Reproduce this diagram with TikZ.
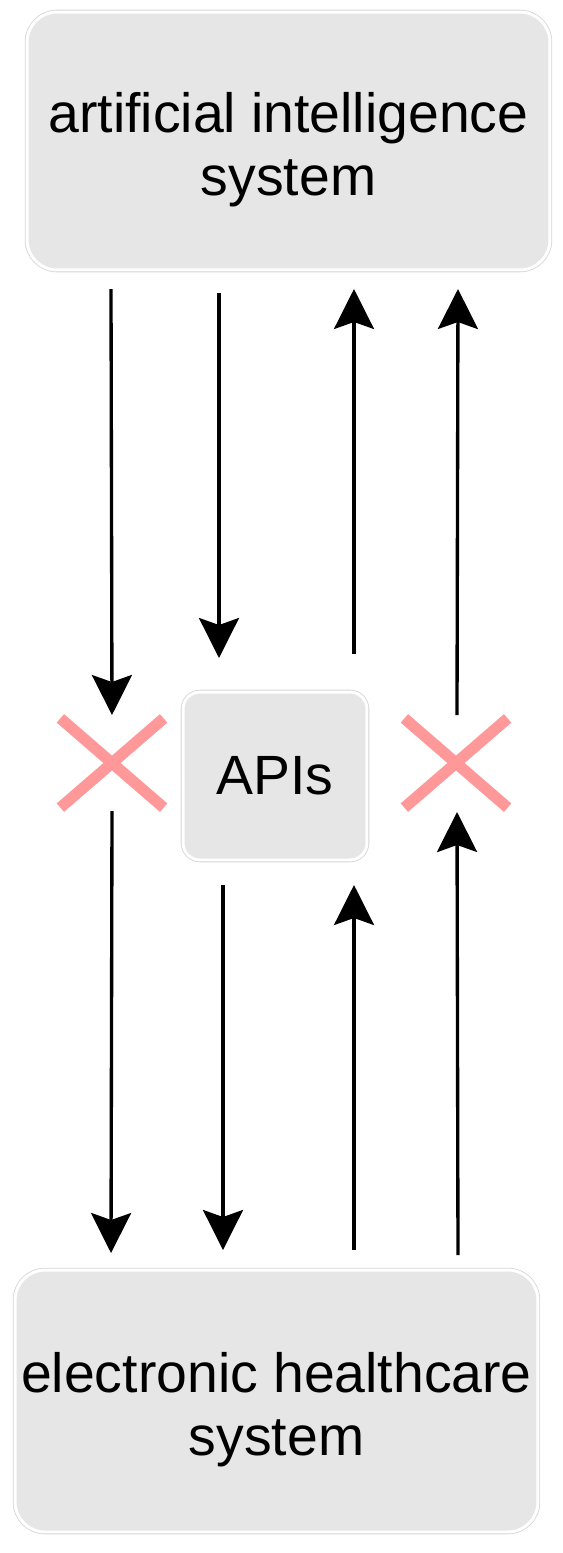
\documentclass[tikz,border=0pt]{standalone}
\usepackage{fontspec}
\setmainfont{Liberation Sans}
\usetikzlibrary{arrows.meta,shapes.misc}
\definecolor{boxfill}{HTML}{E6E6E6}
\definecolor{rim}{HTML}{D4D4D4}
\definecolor{nogo}{HTML}{FF9999}
\tikzset{
  sysbox/.style ={fill=boxfill, draw=white, line width=1.7pt,
                  preaction={draw=rim, line width=2.6pt},
                  rounded corners=0.6cm, align=center, inner sep=0pt,
                  minimum width=10.46cm, text height=62.4pt, text depth=0pt,
                  font=\fontsize{31.5pt}{36pt}\selectfont},
  apibox/.style ={sysbox, rounded corners=0.34cm, minimum width=3.68cm,
                  minimum height=3.36cm, text height=, text depth=},
  % blocked path: pink cross
  block/.style  ={cross out, draw=nogo, line width=6.4pt, inner sep=0pt,
                  minimum width=1.84cm, minimum height=1.56cm},
  flow/.style   ={-{Stealth[length=0.8cm, width=0.8cm, inset=0.14cm]},
                  line width=1.9pt},
}
\begin{document}
\begin{tikzpicture}[x=0.02cm, y=-0.02cm]
    \useasboundingbox (0,0) rectangle (562,1553);
    \node[sysbox, minimum height=5.16cm] (AI)  at (288.5,141)  {artificial intelligence\\system};
    \node[apibox] (API) at (275,776) {APIs};
    \node[sysbox, minimum height=5.24cm] (EHR) at (276.5,1401) {electronic healthcare\\system};
    \node[block] (X1) at (112,763) {};
    \node[block] (X2) at (456,763) {};
    % arrow end points
    \coordinate (a1) at (111,289);  \coordinate (a2) at (112,715);
    \coordinate (a3) at (112,811);  \coordinate (a4) at (111,1253);
    \coordinate (b1) at (219,293);  \coordinate (b2) at (219,658);
    \coordinate (b3) at (223,885);  \coordinate (b4) at (223,1250);
    \coordinate (c1) at (354,654);  \coordinate (c2) at (354,289);
    \coordinate (c3) at (354,1250); \coordinate (c4) at (354,885);
    \coordinate (d1) at (457,715);  \coordinate (d2) at (458,289);
    \coordinate (d3) at (458,1255); \coordinate (d4) at (457,812);
    \draw[flow] (a1) -- (a2);   \draw[flow] (a3) -- (a4);
    \draw[flow] (b1) -- (b2);   \draw[flow] (b3) -- (b4);
    \draw[flow] (c1) -- (c2);   \draw[flow] (c3) -- (c4);
    \draw[flow] (d1) -- (d2);   \draw[flow] (d3) -- (d4);
  \end{tikzpicture}
\end{document}
